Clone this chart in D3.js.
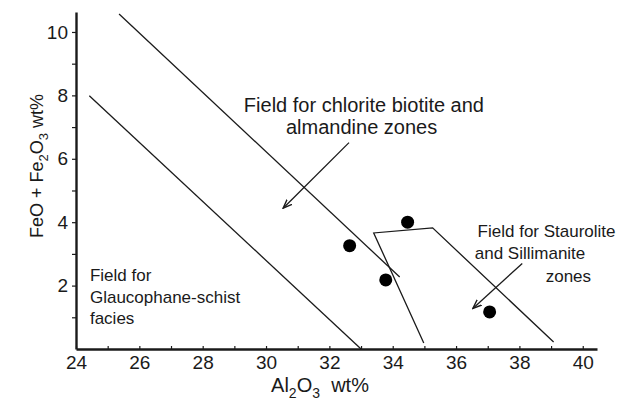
<!DOCTYPE html>
<html>
<head>
<meta charset="utf-8">
<script src="https://cdn.jsdelivr.net/npm/d3@7"></script>
<style>
  body { margin: 0; background: #fff; }
  svg { display: block; font-family: "Liberation Sans", Arial, sans-serif; }
</style>
</head>
<body>
<svg id="chart" width="635" height="405"></svg>
<script>
// Tick values
const xTickValues = [24, 25, 26, 27, 28, 29, 30, 31, 32, 33, 34, 35, 36, 37, 38, 39, 40];
const xTickLabels = [24, 26, 28, 30, 32, 34, 36, 38, 40];
const yTickValues = [1, 2, 3, 4, 5, 6, 7, 8, 9, 10];
const yTickLabels = [2, 4, 6, 8, 10];

// Sample points (Al2O3 wt%, FeO + Fe2O3 wt%)
const sampleAl2O3 = [32.64, 34.47, 33.78, 37.06];
const sampleFeO = [3.26, 4.0, 2.18, 1.17];

// Field boundaries as [Al2O3, FeO+Fe2O3]
const glaucophaneBoundary = [[24.42, 7.99], [33.0, 0]];
const chloriteBoundary = [[25.36, 10.57], [34.22, 2.27]];
const stauroliteBoundary = [[34.98, 0.19], [33.40, 3.66], [35.26, 3.82], [39.08, 0.22]];

// Arrows pointing into the fields
const chloriteArrow = [[32.62, 6.51], [30.54, 4.44]];
const stauroliteArrow = [[38.09, 2.70], [36.53, 1.28]];

// Field labels
const chloriteLabel = ['Field for chlorite biotite and', 'almandine zones'];
const stauroliteLabel = ['Field for Staurolite', 'and Sillimanite', 'zones'];
const glaucophaneLabel = ['Field for', 'Glaucophane-schist', 'facies'];

const svg = d3.select('#chart');

svg.append('rect')
    .attr('width', 635)
    .attr('height', 405)
    .attr('fill', '#fff');

const x = d3.scaleLinear().domain([24, 40.45]).range([76, 597]);
const y = d3.scaleLinear().domain([0, 10.63]).range([349, 12]);

const ink = '#1a1a1a';

// X axis
const xAxis = svg.append('g')
    .attr('transform', `translate(0, ${y(0)})`)
    .call(d3.axisBottom(x)
        .tickValues(xTickValues)
        .tickSizeInner(-3)
        .tickSizeOuter(0)
        .tickPadding(7)
        .tickFormat(d => xTickLabels.includes(d) ? d : ''));

// Y axis
const yAxis = svg.append('g')
    .attr('transform', `translate(${x(24)}, 0)`)
    .call(d3.axisLeft(y)
        .tickValues(yTickValues)
        .tickSizeInner(4)
        .tickSizeOuter(0)
        .tickPadding(4)
        .tickFormat(d => yTickLabels.includes(d) ? d : ''));

[xAxis, yAxis].forEach(g => {
    g.select('.domain').attr('stroke', ink).attr('stroke-width', 2.4);
    g.selectAll('.tick line').attr('stroke', ink).attr('stroke-width', 1.2);
    g.selectAll('.tick text')
        .attr('fill', ink)
        .style('font-size', '19px')
        .style('font-family', '"Liberation Sans", Arial, sans-serif');
});

// Axis titles
const xTitle = svg.append('text')
    .attr('x', 320)
    .attr('y', 392)
    .attr('text-anchor', 'middle')
    .attr('fill', ink)
    .style('font-size', '20px');
xTitle.append('tspan').text('Al');
xTitle.append('tspan').attr('dy', 6).style('font-size', '14px').text('2');
xTitle.append('tspan').attr('dy', -6).text('O');
xTitle.append('tspan').attr('dy', 6).style('font-size', '14px').text('3');
xTitle.append('tspan').attr('dy', -6).text('\u00a0\u00a0wt%');

const yTitle = svg.append('text')
    .attr('transform', 'translate(43, 166) rotate(-90)')
    .attr('text-anchor', 'middle')
    .attr('fill', ink)
    .style('font-size', '18px');
yTitle.append('tspan').text('FeO + Fe');
yTitle.append('tspan').attr('dy', 5).style('font-size', '13px').text('2');
yTitle.append('tspan').attr('dy', -5).text('O');
yTitle.append('tspan').attr('dy', 5).style('font-size', '13px').text('3');
yTitle.append('tspan').attr('dy', -5).text(' wt%');

// Field boundary lines
const line = d3.line()
    .x(d => x(d[0]))
    .y(d => y(d[1]));

[glaucophaneBoundary, chloriteBoundary, stauroliteBoundary].forEach(pts => {
    svg.append('path')
        .datum(pts)
        .attr('d', line)
        .attr('fill', 'none')
        .attr('stroke', ink)
        .attr('stroke-width', 1.3);
});

// Arrow marker
svg.append('defs')
    .append('marker')
    .attr('id', 'arrowhead')
    .attr('viewBox', '0 0 10 10')
    .attr('refX', 9)
    .attr('refY', 5)
    .attr('markerWidth', 10)
    .attr('markerHeight', 10)
    .attr('markerUnits', 'userSpaceOnUse')
    .attr('orient', 'auto')
    .append('path')
    .attr('d', 'M0,1.5 L9,5 L0,8.5')
    .attr('fill', 'none')
    .attr('stroke', ink)
    .attr('stroke-width', 1.4);

[chloriteArrow, stauroliteArrow].forEach(pts => {
    svg.append('path')
        .datum(pts)
        .attr('d', line)
        .attr('fill', 'none')
        .attr('stroke', ink)
        .attr('stroke-width', 1.3)
        .attr('marker-end', 'url(#arrowhead)');
});

// Sample points
svg.selectAll('circle.sample')
    .data(sampleAl2O3)
    .enter()
    .append('circle')
    .attr('class', 'sample')
    .attr('cx', d => x(d))
    .attr('cy', (d, i) => y(sampleFeO[i]))
    .attr('r', 6.5)
    .attr('fill', '#000');

// Field labels
function addLabel(lines, anchors, size) {
    svg.selectAll(null)
        .data(lines)
        .enter()
        .append('text')
        .attr('x', (d, i) => x(anchors[i][0]))
        .attr('y', (d, i) => y(anchors[i][1]))
        .attr('fill', ink)
        .style('font-size', size + 'px')
        .text(d => d);
}

addLabel(chloriteLabel, [[29.3, 7.49], [30.63, 6.78]], 20);
addLabel(stauroliteLabel, [[36.68, 3.54], [36.59, 2.84], [38.83, 2.12]], 17);
addLabel(glaucophaneLabel, [[24.44, 2.15], [24.44, 1.45], [24.44, 0.79]], 17);
</script>
</body>
</html>
